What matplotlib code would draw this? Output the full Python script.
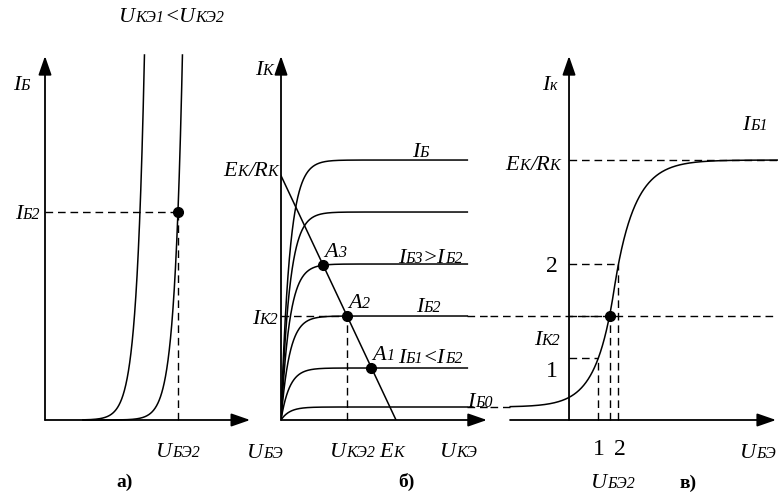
import numpy as np
import matplotlib.pyplot as plt
from matplotlib import transforms

plt.rcParams['font.family'] = 'Liberation Serif'

W, H = 778, 500
AXIS_ROW, TOP_ROW = 420, 55      # pixel rows of the U axes and of the top of the I axes
BIG, SMALL = 16, 11.5

# а) input characteristics I_Б(U_БЭ)
u_be2 = 0.70            # V, operating point
i_b2 = 40.0             # µA
u_ce_shift = 0.20       # V, U_КЭ1 curve lies this much to the left
u_be_slope = 0.042      # V

# б) output characteristics I_К(U_КЭ)
i_b_plateaus = [0.25, 1.0, 2.0, 3.0, 4.0, 5.0]   # mA, from I_Б0 up to I_Б
u_knee = 0.75           # V
u_ce_end = 16.2         # V
e_k = 10.0              # V
e_k_rk = 4.7            # mA
point_names = ['1', '2', '3']
point_plateaus = [1.0, 2.0, 3.0]

# в) transfer characteristic I_К(U_БЭ)
i_k_min, i_k_mid, i_k_max = 0.25, 2.5, 5.0
u_mid = 0.75
s_low, s_high = 0.30, 0.333
u_be_start = -0.98
level_1, level_2 = 1.2, 3.0

fig = plt.figure(figsize=(W / 100, H / 100), dpi=100)
renderer = fig.canvas.get_renderer()


def panel(x_left, x_right, xlim, ylim):
    ax = fig.add_axes([x_left / W, 1 - AXIS_ROW / H,
                       (x_right - x_left) / W, (AXIS_ROW - TOP_ROW) / H])
    ax.set_xlim(xlim)
    ax.set_ylim(ylim)
    ax.axis('off')
    return ax


def arrow(ax, start, end):
    ax.annotate('', xy=end, xytext=start, annotation_clip=False,
                arrowprops=dict(arrowstyle='-|>,head_length=1.15,head_width=0.4',
                                color='k', lw=1.3, shrinkA=0, shrinkB=0))


def rich(ax, x, y, parts, ha='center', dx=0, dy=0, italic=True):
    """Text made of big and small pieces sitting on one baseline."""
    texts, widths = [], []
    for s, small in parts:
        t = ax.text(x, y, s, fontsize=SMALL if small else BIG,
                    style='italic' if italic else 'normal', ha='left', va='baseline')
        texts.append(t)
        widths.append(t.get_window_extent(renderer).width)
    total = sum(widths)
    off = {'left': 0, 'center': -total / 2, 'right': -total}[ha] + dx
    for t, w in zip(texts, widths):
        t.set_transform(ax.transData + transforms.ScaledTranslation(
            off / fig.dpi, dy / fig.dpi, fig.dpi_scale_trans))
        off += w


def dashed(ax, xs, ys):
    ax.plot(xs, ys, color='k', lw=1.0, ls=(0, (5.5, 3.5)), clip_on=False)


ax_a = panel(45, 260, (0, 1.132), (0, 70.2))
ax_b = panel(281, 490, (0, 18.17), (0, 7.02))
ax_c = panel(490, 778, (-1.317, 3.483), (0, 7.02))

# а) input characteristics
arrow(ax_a, (0, 0), (1.08, 0))
arrow(ax_a, (0, 0), (0, 70.0))
i_top = 70.2
for u0 in [u_be2 - u_ce_shift, u_be2]:
    u_end = u0 + u_be_slope * np.log(i_top / i_b2)
    u = np.linspace(0.2, u_end, 400)
    ax_a.plot(u, i_b2 * np.exp((u - u0) / u_be_slope), color='k', lw=1.1, clip_on=False)
dashed(ax_a, [0, u_be2], [i_b2, i_b2])
dashed(ax_a, [u_be2, u_be2], [0, i_b2])
ax_a.plot(u_be2, i_b2, 'o', color='k', ms=7)

rich(ax_a, -0.168, 63.5, [('I', False), ('Б', True)], ha='left')
rich(ax_a, -0.026, i_b2 - 1.3, [('I', False), ('Б2', True)], ha='right')
rich(ax_a, 0.668, 76.6, [('U', False), ('КЭ1', True), ('<U', False), ('КЭ2', True)])
rich(ax_a, u_be2, -7.1, [('U', False), ('БЭ2', True)])
rich(ax_a, 1.158, -7.3, [('U', False), ('БЭ', True)])
ax_a.text(0.42, -12.9, 'а)', fontsize=14, fontweight='bold', ha='center', va='baseline')

# б) output characteristics with the load line
arrow(ax_b, (0, 0), (17.9, 0))
arrow(ax_b, (0, 0), (0, 7.0))
u_ce = np.linspace(0, u_ce_end, 800)
for lvl in i_b_plateaus:
    ax_b.plot(u_ce, lvl * (1 - np.exp(-u_ce / u_knee)), color='k', lw=1.1)
ax_b.plot([0, e_k], [e_k_rk, 0], color='k', lw=1.1)

load = e_k_rk * (1 - u_ce / e_k)
points = {}
for name, lvl in zip(point_names, point_plateaus):
    k = np.argmin(np.abs(lvl * (1 - np.exp(-u_ce / u_knee)) - load))
    points[name] = (u_ce[k], load[k])
    ax_b.plot(*points[name], 'o', color='k', ms=7)
    rich(ax_b, *points[name], [('A', False), (name, True)], ha='left', dx=1, dy=8)
u_ce2, i_k2 = points['2']

dashed(ax_b, [0, u_ce2], [i_k2, i_k2])
dashed(ax_b, [u_ce2, u_ce2], [0, i_k2])
dashed(ax_b, [u_ce_end, 18.17], [i_k2, i_k2])
dashed(ax_b, [u_ce_end, 18.17], [i_b_plateaus[0], i_b_plateaus[0]])

rich(ax_b, -0.7, 6.63, [('I', False), ('К', True)], ha='right')
rich(ax_b, -0.26, e_k_rk, [('E', False), ('К', True), ('/R', False), ('К', True)], ha='right')
rich(ax_b, -0.26, i_k2 - 0.15, [('I', False), ('К2', True)], ha='right')
rich(ax_b, 12.1, 5.06, [('I', False), ('Б', True)])
rich(ax_b, 12.96, 3.02, [('I', False), ('Б3', True), ('>I', False), ('Б2', True)])
rich(ax_b, 12.8, 2.08, [('I', False), ('Б2', True)])
rich(ax_b, 12.96, 1.10, [('I', False), ('Б1', True), ('<I', False), ('Б2', True)])
rich(ax_b, 17.3, 0.25, [('I', False), ('Б0', True)])
rich(ax_b, 6.2, -0.71, [('U', False), ('КЭ2', True)])
rich(ax_b, 9.6, -0.71, [('E', False), ('К', True)])
rich(ax_b, 15.4, -0.71, [('U', False), ('КЭ', True)])
ax_b.text(10.9, -1.29, 'б)', fontsize=14, fontweight='bold', ha='center', va='baseline')

# в) transfer characteristic
arrow(ax_c, (-0.983, 0), (3.45, 0))
arrow(ax_c, (0, 0), (0, 7.0))
u_be = np.linspace(u_be_start, 3.483, 1200)
i_k = np.where(u_be < u_mid,
               i_k_min + (i_k_mid - i_k_min) * np.exp((u_be - u_mid) / s_low),
               i_k_max - (i_k_max - i_k_mid) * np.exp(-(u_be - u_mid) / s_high))
ax_c.plot(u_be, i_k, color='k', lw=1.1, clip_on=False)

u_1 = np.interp(level_1, i_k, u_be)
u_2 = np.interp(level_2, i_k, u_be)
u_be2_c = np.interp(i_k2, i_k, u_be)

dashed(ax_c, [-1.317, 3.483], [i_k2, i_k2])
dashed(ax_c, [-1.317, u_be_start], [i_k_min, i_k_min])
dashed(ax_c, [0, 3.483], [i_k_max, i_k_max])
for u, lvl in [(u_1, level_1), (u_2, level_2), (u_be2_c, i_k2)]:
    dashed(ax_c, [0, u], [lvl, lvl])
    dashed(ax_c, [u, u], [0, lvl])
ax_c.plot(u_be2_c, i_k2, 'o', color='k', ms=7)

rich(ax_c, -0.32, 6.35, [('I', False), ('к', True)])
rich(ax_c, -0.15, 4.81, [('E', False), ('К', True), ('/R', False), ('К', True)], ha='right')
rich(ax_c, 3.1, 5.58, [('I', False), ('Б1', True)])
rich(ax_c, -0.15, i_k2 - 0.57, [('I', False), ('К2', True)], ha='right')
for lbl, lvl, dy in [('1', level_1, -0.37), ('2', level_2, -0.15)]:
    ax_c.text(-0.28, lvl + dy, lbl, fontsize=17, ha='center', va='baseline')
ax_c.text(u_1, -0.67, '1', fontsize=17, ha='center', va='baseline')
ax_c.text(u_2 + 0.03, -0.67, '2', fontsize=17, ha='center', va='baseline')
rich(ax_c, 0.73, -1.31, [('U', False), ('БЭ2', True)])
rich(ax_c, 3.15, -0.73, [('U', False), ('БЭ', True)])
ax_c.text(1.98, -1.31, 'в)', fontsize=14, fontweight='bold', ha='center', va='baseline')

fig.savefig('out.png', dpi=100)
